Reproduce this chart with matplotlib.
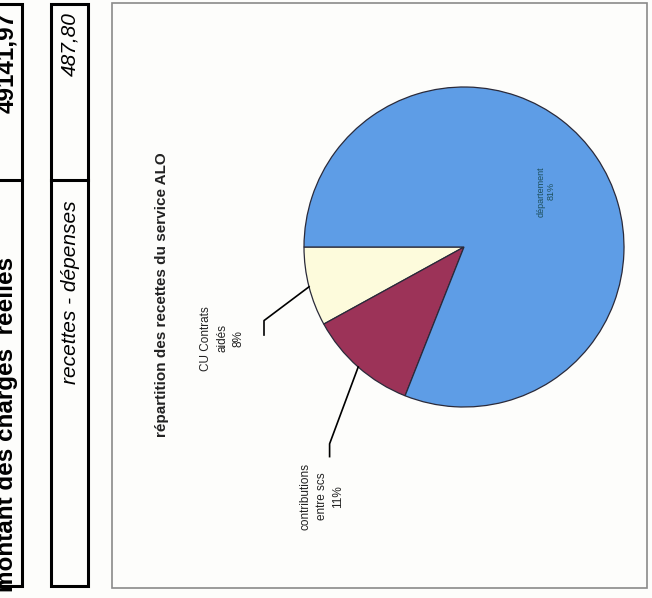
import numpy as np
import matplotlib
matplotlib.use("Agg")
from matplotlib import pyplot as plt
from matplotlib.patches import Rectangle

plt.rcParams['font.family'] = ['Liberation Sans', 'DejaVu Sans']

# recettes du service ALO
categories = ['CU Contrats\naidés', 'contributions\nentre scs', 'département']
shares = [8, 11, 81]
colors = ['#fdfbdc', '#9c3358', '#5e9de6']

# tableau à gauche
table_rows = ['montant des charges  réelles', 'recettes - dépenses']
table_values = ['49141,97', '487,80']

W, H = 652, 598
fig = plt.figure(figsize=(W / 100, H / 100), dpi=100)
fig.patch.set_facecolor('#fdfdfb')

# calque en pixels pour le cadre, le tableau et le titre
bg = fig.add_axes([0, 0, 1, 1])
bg.set_xlim(0, W)
bg.set_ylim(H, 0)
bg.axis('off')

# cadre du graphique
bg.add_patch(Rectangle((112, 3), 535, 585, fill=False, ec='#8a8a8a', lw=1.2))

# deux cases du tableau (page tournée)
for (x0, x1), row, val, style, weight, xc, ystart, fs in [
        ((-6, 22), table_rows[0], table_values[0], 'normal', 'bold', 7, 592, 17.5),
        ((51, 88), table_rows[1], table_values[1], 'italic', 'normal', 70, 384, 15)]:
    bg.add_patch(Rectangle((x0, 4), x1 - x0, 582, fill=False, ec='black', lw=2.2))
    bg.plot([x0, x1], [180, 180], color='black', lw=2.2)
    bg.text(xc, 12, val, rotation=90, ha='center', va='top', fontsize=fs,
            style=style, fontweight=weight)
    bg.text(xc, ystart, row, rotation=90, ha='center', va='bottom',
            fontsize=fs, style=style, fontweight=weight)

bg.text(162, 295, 'répartition des recettes du service ALO', rotation=90,
        ha='center', va='center', fontsize=11, fontweight='bold', color='#222222')

# camembert : centre (464, 247), rayon 160 px
cx, cy, r = 464, 247, 160
pie_ax = fig.add_axes([(cx - r) / W, 1 - (cy + r) / H, 2 * r / W, 2 * r / H])
wedges, _ = pie_ax.pie(shares, colors=colors, startangle=180, counterclock=True,
                       wedgeprops=dict(edgecolor='#2a2a3a', linewidth=0.9))
pie_ax.set_xlim(-1, 1)
pie_ax.set_ylim(-1, 1)
pie_ax.set_aspect('equal')


def mid_point(w, rad):
    a = np.deg2rad((w.theta1 + w.theta2) / 2)
    return rad * np.cos(a), rad * np.sin(a)


# étiquettes extérieures avec traits de rappel
outside = [(0, (-1.25, -0.46), (-1.25, -0.55), (-1.51, -0.57)),
           (1, (-0.84, -1.23), (-0.84, -1.31), (-0.89, -1.56))]
for i, kink, tick, lab in outside:
    px, py = mid_point(wedges[i], 1.0)
    pie_ax.plot([px, kink[0], tick[0]], [py, kink[1], tick[1]], color='black',
                lw=1.2, clip_on=False)
    pie_ax.text(lab[0], lab[1], f'{categories[i]}\n{shares[i]}%', rotation=90,
                ha='center', va='center', fontsize=8.5, color='#222222',
                linespacing=1.45, clip_on=False)

# étiquette intérieure
tx, ty = mid_point(wedges[2], 0.62)
pie_ax.text(tx, ty, f'{categories[2]}\n{shares[2]}%', rotation=90, ha='center',
            va='center', fontsize=6.5, color='#1d4f5c')

fig.savefig('out.png', dpi=100, facecolor=fig.get_facecolor())
